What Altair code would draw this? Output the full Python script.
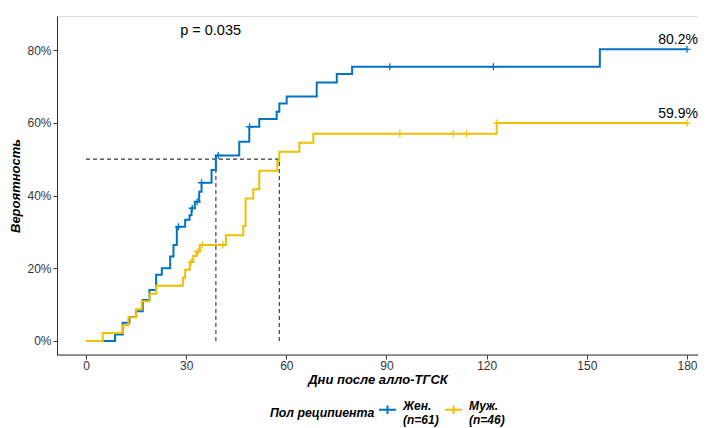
import altair as alt
import pandas as pd

FONT = "Liberation Sans"

groups = ["Жен. (n=61)", "Муж. (n=46)"]
colors = ["#0073C2", "#EFC000"]

# Cumulative incidence step points (day, %)
f_days = [0, 8.7, 11, 13, 15, 17, 19, 21, 22.7, 25.2, 26.2, 27.2, 29.7, 31, 31.6, 32.6,
          33.9, 34.6, 37.6, 38.9, 45.9, 48.9, 51.9, 57.1, 57.9, 60.1, 69.1, 75.1, 79.7,
          153.9, 180]
f_pct = [0, 1.8, 5.0, 6.6, 8.2, 11.3, 14.0, 18.2, 20.0, 23.2, 26.4, 31.4, 33.3, 34.6, 36.5,
         38.3, 41.0, 43.5, 47.0, 51.0, 54.8, 58.9, 61.0, 63.0, 65.3, 67.2, 71.1, 73.4, 75.4,
         80.2, 80.2]
m_days = [0, 5, 11, 12.7, 15, 16.7, 19, 21, 29, 29.7, 31.1, 32.1, 33.1, 34.1, 41.9, 47.1,
          47.8, 50.1, 51.9, 57.3, 57.9, 63.9, 68.1, 123, 180]
m_pct = [0, 2.2, 4.3, 6.5, 8.7, 10.9, 13.0, 15.2, 17.4, 19.6, 21.7, 23.4, 24.6, 26.4, 29.1,
         31.6, 39.2, 41.7, 46.8, 49.5, 52.0, 54.5, 57.0, 59.9, 59.9]

# Censoring marks
f_cens_days = [27.7, 31.8, 33.3, 34.6, 39.6, 49, 91, 122, 180]
f_cens_pct = [31.4, 36.5, 38.3, 43.5, 51.0, 58.9, 75.4, 75.4, 80.2]
m_cens_days = [31.5, 33.5, 34.8, 41, 94, 110, 114, 123, 180]
m_cens_pct = [21.7, 24.6, 26.4, 26.4, 57.0, 57.0, 57.0, 59.9, 59.9]

# Medians
median_days = [38.9, 57.9]
median_level = 50

final_labels = ["80.2%", "59.9%"]
final_pct = [80.2, 59.9]
final_day = 180

p_text = "p = 0.035"
p_day = 28.2
p_pct = 85.2

x_ticks = [0, 30, 60, 90, 120, 150, 180]
y_ticks = [0, 20, 40, 60, 80]

lines_df = pd.DataFrame(
    {"group": [groups[0]] * len(f_days) + [groups[1]] * len(m_days),
     "day": f_days + m_days,
     "pct": f_pct + m_pct,
     "ord": list(range(len(f_days))) + list(range(len(m_days)))}
)
cens_df = pd.DataFrame(
    {"group": [groups[0]] * len(f_cens_days) + [groups[1]] * len(m_cens_days),
     "day": f_cens_days + m_cens_days,
     "pct": f_cens_pct + m_cens_pct}
)
hline_df = pd.DataFrame({"x": [0], "x2": [max(median_days)], "y": [median_level]})
vline_df = pd.DataFrame({"x": median_days, "y": [0, 0], "y2": [median_level] * 2})
lab_df = pd.DataFrame({"day": [final_day] * 2, "pct": final_pct, "txt": final_labels})
p_df = pd.DataFrame({"day": [p_day], "pct": [p_pct], "txt": [p_text]})

xscale = alt.Scale(domain=[-8.69, 183.3], nice=False, zero=False)
yscale = alt.Scale(domain=[-3.85, 89.35], nice=False, zero=False)
cscale = alt.Scale(domain=groups, range=colors)

x_axis = alt.Axis(values=x_ticks, title="Дни после алло-ТГСК", domain=False, grid=False,
                  tickSize=4, tickColor="#333333", labelPadding=1, labelFontSize=12,
                  labelColor="#333333", labelFont=FONT, titleFont=FONT, titleFontSize=13,
                  titleFontWeight="bold", titleFontStyle="italic", titleColor="#000000",
                  titlePadding=2)
y_axis = alt.Axis(values=y_ticks, labelExpr="datum.value + '%'", title="Вероятность",
                  domain=True, domainColor="#333333", grid=False, tickSize=4,
                  tickColor="#333333", labelPadding=2, labelFontSize=12, labelColor="#333333",
                  labelFont=FONT, titleFont=FONT, titleFontSize=13, titleFontWeight="bold",
                  titleFontStyle="italic", titleColor="#000000", titlePadding=4)

legend = alt.Legend(
    orient="none", legendX=213, legendY=384, direction="horizontal",
    title="Пол реципиента", titleOrient="left", titleFont=FONT, titleFontSize=12.3,
    titleFontWeight="bold", titleFontStyle="italic", titleColor="#000000",
    titleBaseline="middle",
    labelFont=FONT, labelFontSize=12, labelFontWeight="bold", labelFontStyle="italic",
    labelColor="#000000", labelExpr="split(datum.label, ' ')", labelBaseline="alphabetic",
    symbolType="M-1,0H1M0,-0.5V0.5", symbolSize=289, symbolStrokeWidth=2,
    columnPadding=2, labelOffset=6, titlePadding=3,
)

lines = alt.Chart(lines_df).mark_line(interpolate="step-after", strokeWidth=2).encode(
    x=alt.X("day:Q", scale=xscale, axis=x_axis),
    y=alt.Y("pct:Q", scale=yscale, axis=y_axis),
    color=alt.Color("group:N", scale=cscale, legend=legend),
    order="ord:Q",
)

cens = alt.Chart(cens_df).mark_point(
    shape="M-1,0H1M0,-1V1", filled=False, size=49, strokeWidth=1.3, opacity=1
).encode(
    x=alt.X("day:Q", scale=xscale),
    y=alt.Y("pct:Q", scale=yscale),
    color=alt.Color("group:N", scale=cscale, legend=None),
)

hline = alt.Chart(hline_df).mark_rule(strokeDash=[4, 3], color="#333333", strokeWidth=1.1).encode(
    x=alt.X("x:Q", scale=xscale), x2="x2:Q", y=alt.Y("y:Q", scale=yscale)
)
vline = alt.Chart(vline_df).mark_rule(strokeDash=[4, 3], color="#333333", strokeWidth=1.1).encode(
    x=alt.X("x:Q", scale=xscale), y=alt.Y("y:Q", scale=yscale), y2="y2:Q"
)

labels = alt.Chart(lab_df).mark_text(
    dy=-5, dx=11, fontSize=14, font=FONT, color="#000000", align="right", baseline="alphabetic"
).encode(x=alt.X("day:Q", scale=xscale), y=alt.Y("pct:Q", scale=yscale), text="txt:N")

ptext = alt.Chart(p_df).mark_text(
    fontSize=14.5, font=FONT, color="#000000", align="left", baseline="middle"
).encode(x=alt.X("day:Q", scale=xscale), y=alt.Y("pct:Q", scale=yscale), text="txt:N")

xline = alt.Chart(pd.DataFrame({"k": [0]})).mark_rule(color="#333333", strokeWidth=1).encode(
    x=alt.value(0), x2=alt.value(641), y=alt.value(339)
)

chart = alt.layer(hline, vline, lines, cens, labels, ptext, xline).properties(
    width=641, height=339,
    autosize=alt.AutoSizeParams(type="none"),
    padding={"left": 49, "top": 8, "right": 0, "bottom": 77},
).configure_view(stroke=None).configure(background="white")

chart.save("out.html", embed_options={"renderer": "svg", "actions": False})
